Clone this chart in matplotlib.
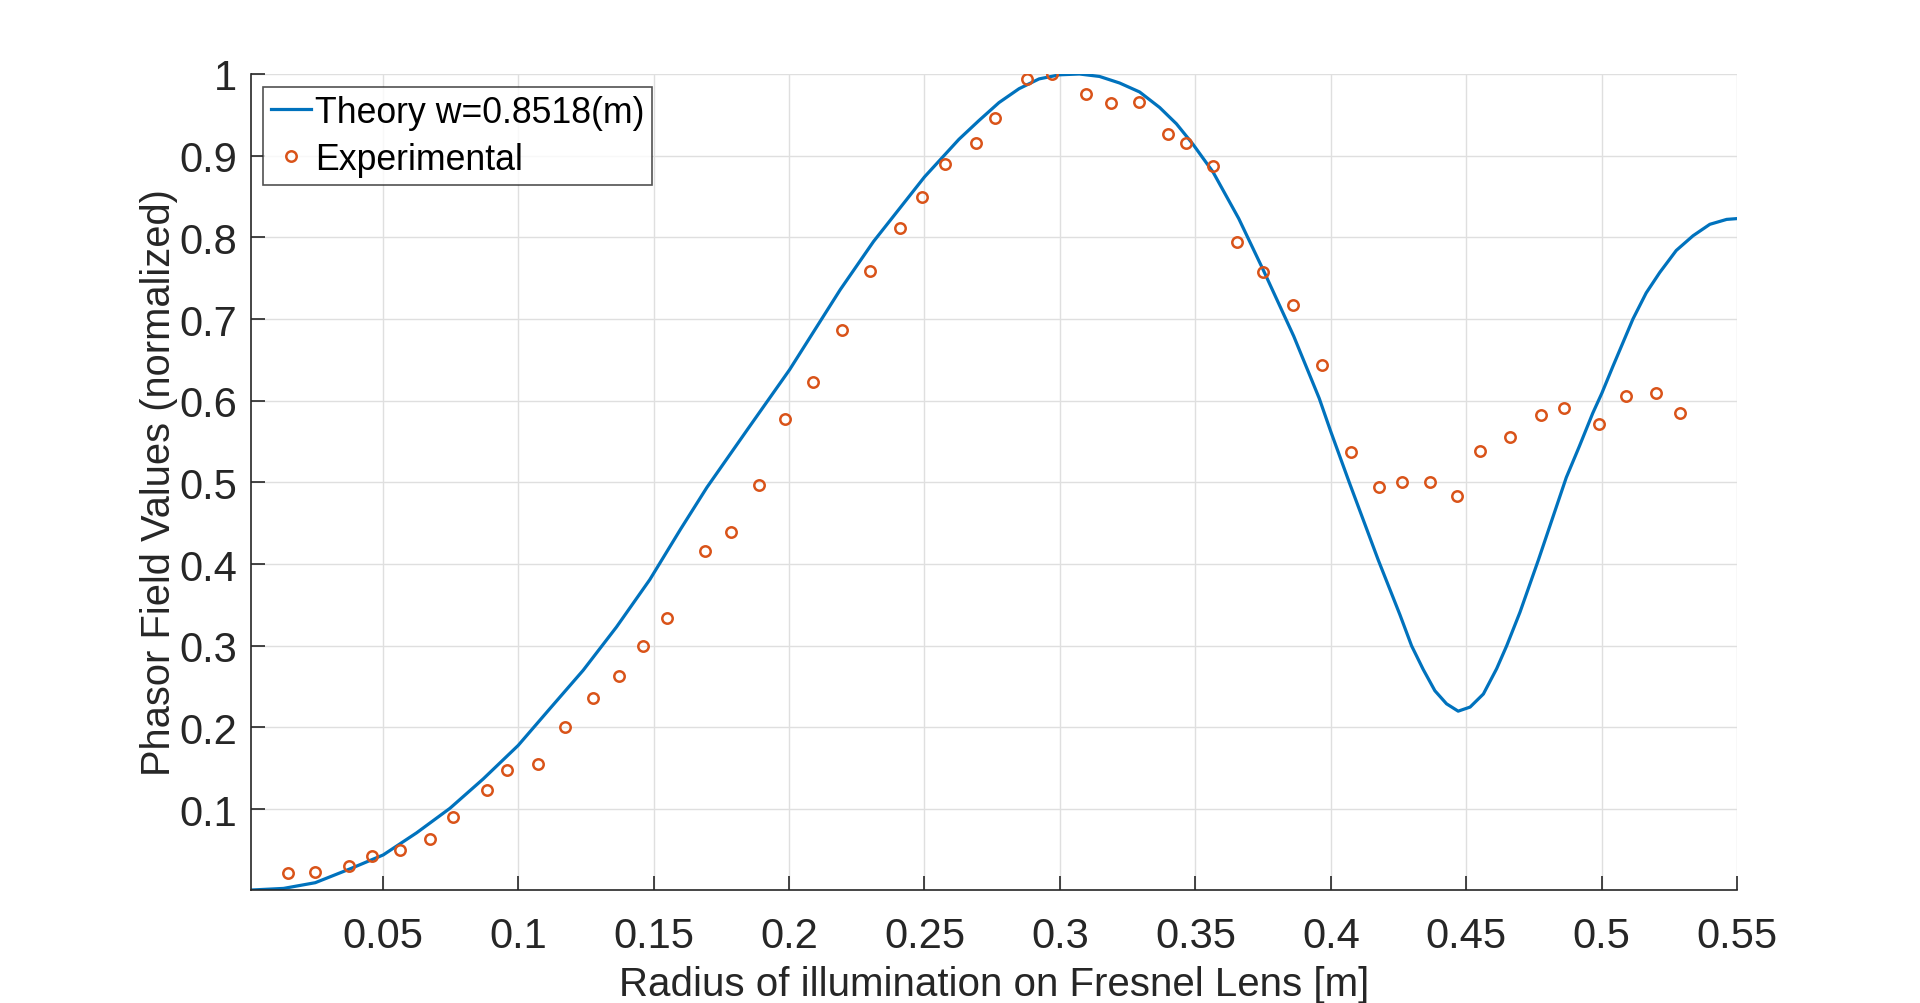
import matplotlib
matplotlib.use('agg')
import matplotlib.pyplot as plt

# theory curve
theory_r = [0.0013, 0.0134, 0.0251, 0.0380, 0.0502, 0.0625, 0.0748, 0.0871,
            0.1000, 0.1117, 0.1240, 0.1363, 0.1486, 0.1600, 0.1697, 0.1849,
            0.2002, 0.2189, 0.2312, 0.2500, 0.2627, 0.2701, 0.2775, 0.2849,
            0.2923, 0.2998, 0.3072, 0.3146, 0.3220, 0.3294, 0.3368, 0.3430,
            0.3491, 0.3565, 0.3660, 0.3752, 0.3863, 0.3957, 0.4000, 0.4068,
            0.4175, 0.4218, 0.4255, 0.4298, 0.4341, 0.4384, 0.4427, 0.4470,
            0.4514, 0.4563, 0.4612, 0.4649, 0.4698, 0.4766, 0.4869, 0.4917,
            0.4967, 0.5000, 0.5041, 0.5078, 0.5115, 0.5164, 0.5214, 0.5275,
            0.5337, 0.5399, 0.5461, 0.5500]
theory_v = [0.001, 0.003, 0.010, 0.027, 0.044, 0.071, 0.101, 0.137,
            0.178, 0.223, 0.270, 0.323, 0.381, 0.443, 0.494, 0.566,
            0.638, 0.736, 0.795, 0.874, 0.920, 0.943, 0.965, 0.982,
            0.994, 0.999, 1.000, 0.997, 0.989, 0.978, 0.959, 0.939,
            0.914, 0.880, 0.823, 0.759, 0.679, 0.603, 0.562, 0.500,
            0.405, 0.369, 0.338, 0.300, 0.271, 0.245, 0.229, 0.220,
            0.225, 0.241, 0.272, 0.300, 0.341, 0.405, 0.506, 0.544,
            0.585, 0.609, 0.642, 0.671, 0.700, 0.732, 0.757, 0.784,
            0.802, 0.816, 0.822, 0.823]

# measured points
exp_r = [0.0149, 0.0250, 0.0375, 0.0461, 0.0565, 0.0674, 0.0759, 0.0884,
         0.0959, 0.1073, 0.1174, 0.1275, 0.1374, 0.1461, 0.1549, 0.1690,
         0.1784, 0.1889, 0.1985, 0.2089, 0.2195, 0.2300, 0.2409, 0.2490,
         0.2575, 0.2690, 0.2760, 0.2877, 0.2969, 0.3095, 0.3190, 0.3290,
         0.3400, 0.3464, 0.3565, 0.3652, 0.3751, 0.3861, 0.3966, 0.4076,
         0.4177, 0.4262, 0.4365, 0.4466, 0.4549, 0.4660, 0.4775, 0.4860,
         0.4989, 0.5090, 0.5199, 0.5290]
exp_v = [0.022, 0.023, 0.030, 0.043, 0.050, 0.063, 0.090, 0.123,
         0.148, 0.155, 0.200, 0.236, 0.263, 0.300, 0.334, 0.416,
         0.439, 0.497, 0.578, 0.623, 0.686, 0.759, 0.811, 0.849,
         0.890, 0.916, 0.946, 0.994, 1.000, 0.976, 0.965, 0.966,
         0.927, 0.915, 0.887, 0.794, 0.757, 0.717, 0.644, 0.537,
         0.495, 0.501, 0.501, 0.483, 0.538, 0.556, 0.582, 0.591,
         0.571, 0.606, 0.610, 0.585]

xticks = [0.05, 0.1, 0.15, 0.2, 0.25, 0.3, 0.35, 0.4, 0.45, 0.5, 0.55]
xtick_labels = ['0.05', '0.1', '0.15', '0.2', '0.25', '0.3', '0.35', '0.4',
                '0.45', '0.5', '0.55']
yticks = [0.1, 0.2, 0.3, 0.4, 0.5, 0.6, 0.7, 0.8, 0.9, 1.0]
ytick_labels = ['0.1', '0.2', '0.3', '0.4', '0.5', '0.6', '0.7', '0.8', '0.9', '1']

plt.rcParams['font.family'] = ['Liberation Sans', 'DejaVu Sans']

ink = '#262626'
fig = plt.figure(figsize=(19.2, 10.04), dpi=100)
ax = fig.add_axes([0.1306, 0.1125, 0.9048 - 0.1306, 0.9253 - 0.1125])

ax.plot(theory_r, theory_v, color='#0072BD', linewidth=2.3,
        solid_joinstyle='round', label='Theory w=0.8518(m)')
ax.plot(exp_r, exp_v, linestyle='none', marker='o', markersize=7.5,
        markerfacecolor='none', markeredgecolor='#D95319', markeredgewidth=1.8,
        label='Experimental')

ax.set_xlim(0.0013, 0.55)
ax.set_ylim(0.001, 1.0)
ax.set_xticks(xticks)
ax.set_xticklabels(xtick_labels)
ax.set_yticks(yticks)
ax.set_yticklabels(ytick_labels)

ax.spines['top'].set_visible(False)
ax.spines['right'].set_visible(False)
for s in ['left', 'bottom']:
    ax.spines[s].set_color(ink)
    ax.spines[s].set_linewidth(1.2)

ax.tick_params(axis='both', direction='in', length=10, width=1.2,
               colors=ink, labelsize=30)
ax.tick_params(axis='x', pad=19)
ax.tick_params(axis='y', pad=10)
ax.grid(True, color='#dfdfdf', linewidth=1.0)
ax.set_axisbelow(True)

ax.set_xlabel('Radius of illumination on Fresnel Lens [m]', fontsize=29,
              color=ink, labelpad=6)
ax.set_ylabel('Phasor Field Values (normalized)', fontsize=28.7,
              color=ink, labelpad=1)

leg = ax.legend(loc='upper left', bbox_to_anchor=(0.0085, 0.984),
                borderaxespad=0, fontsize=25.7, frameon=True, fancybox=False,
                edgecolor='#262626', handlelength=1.1, handletextpad=0.13,
                borderpad=0.22, labelspacing=0.33)
leg.get_frame().set_linewidth(1.2)

fig.savefig('out.png', dpi=100)
plt.close()
